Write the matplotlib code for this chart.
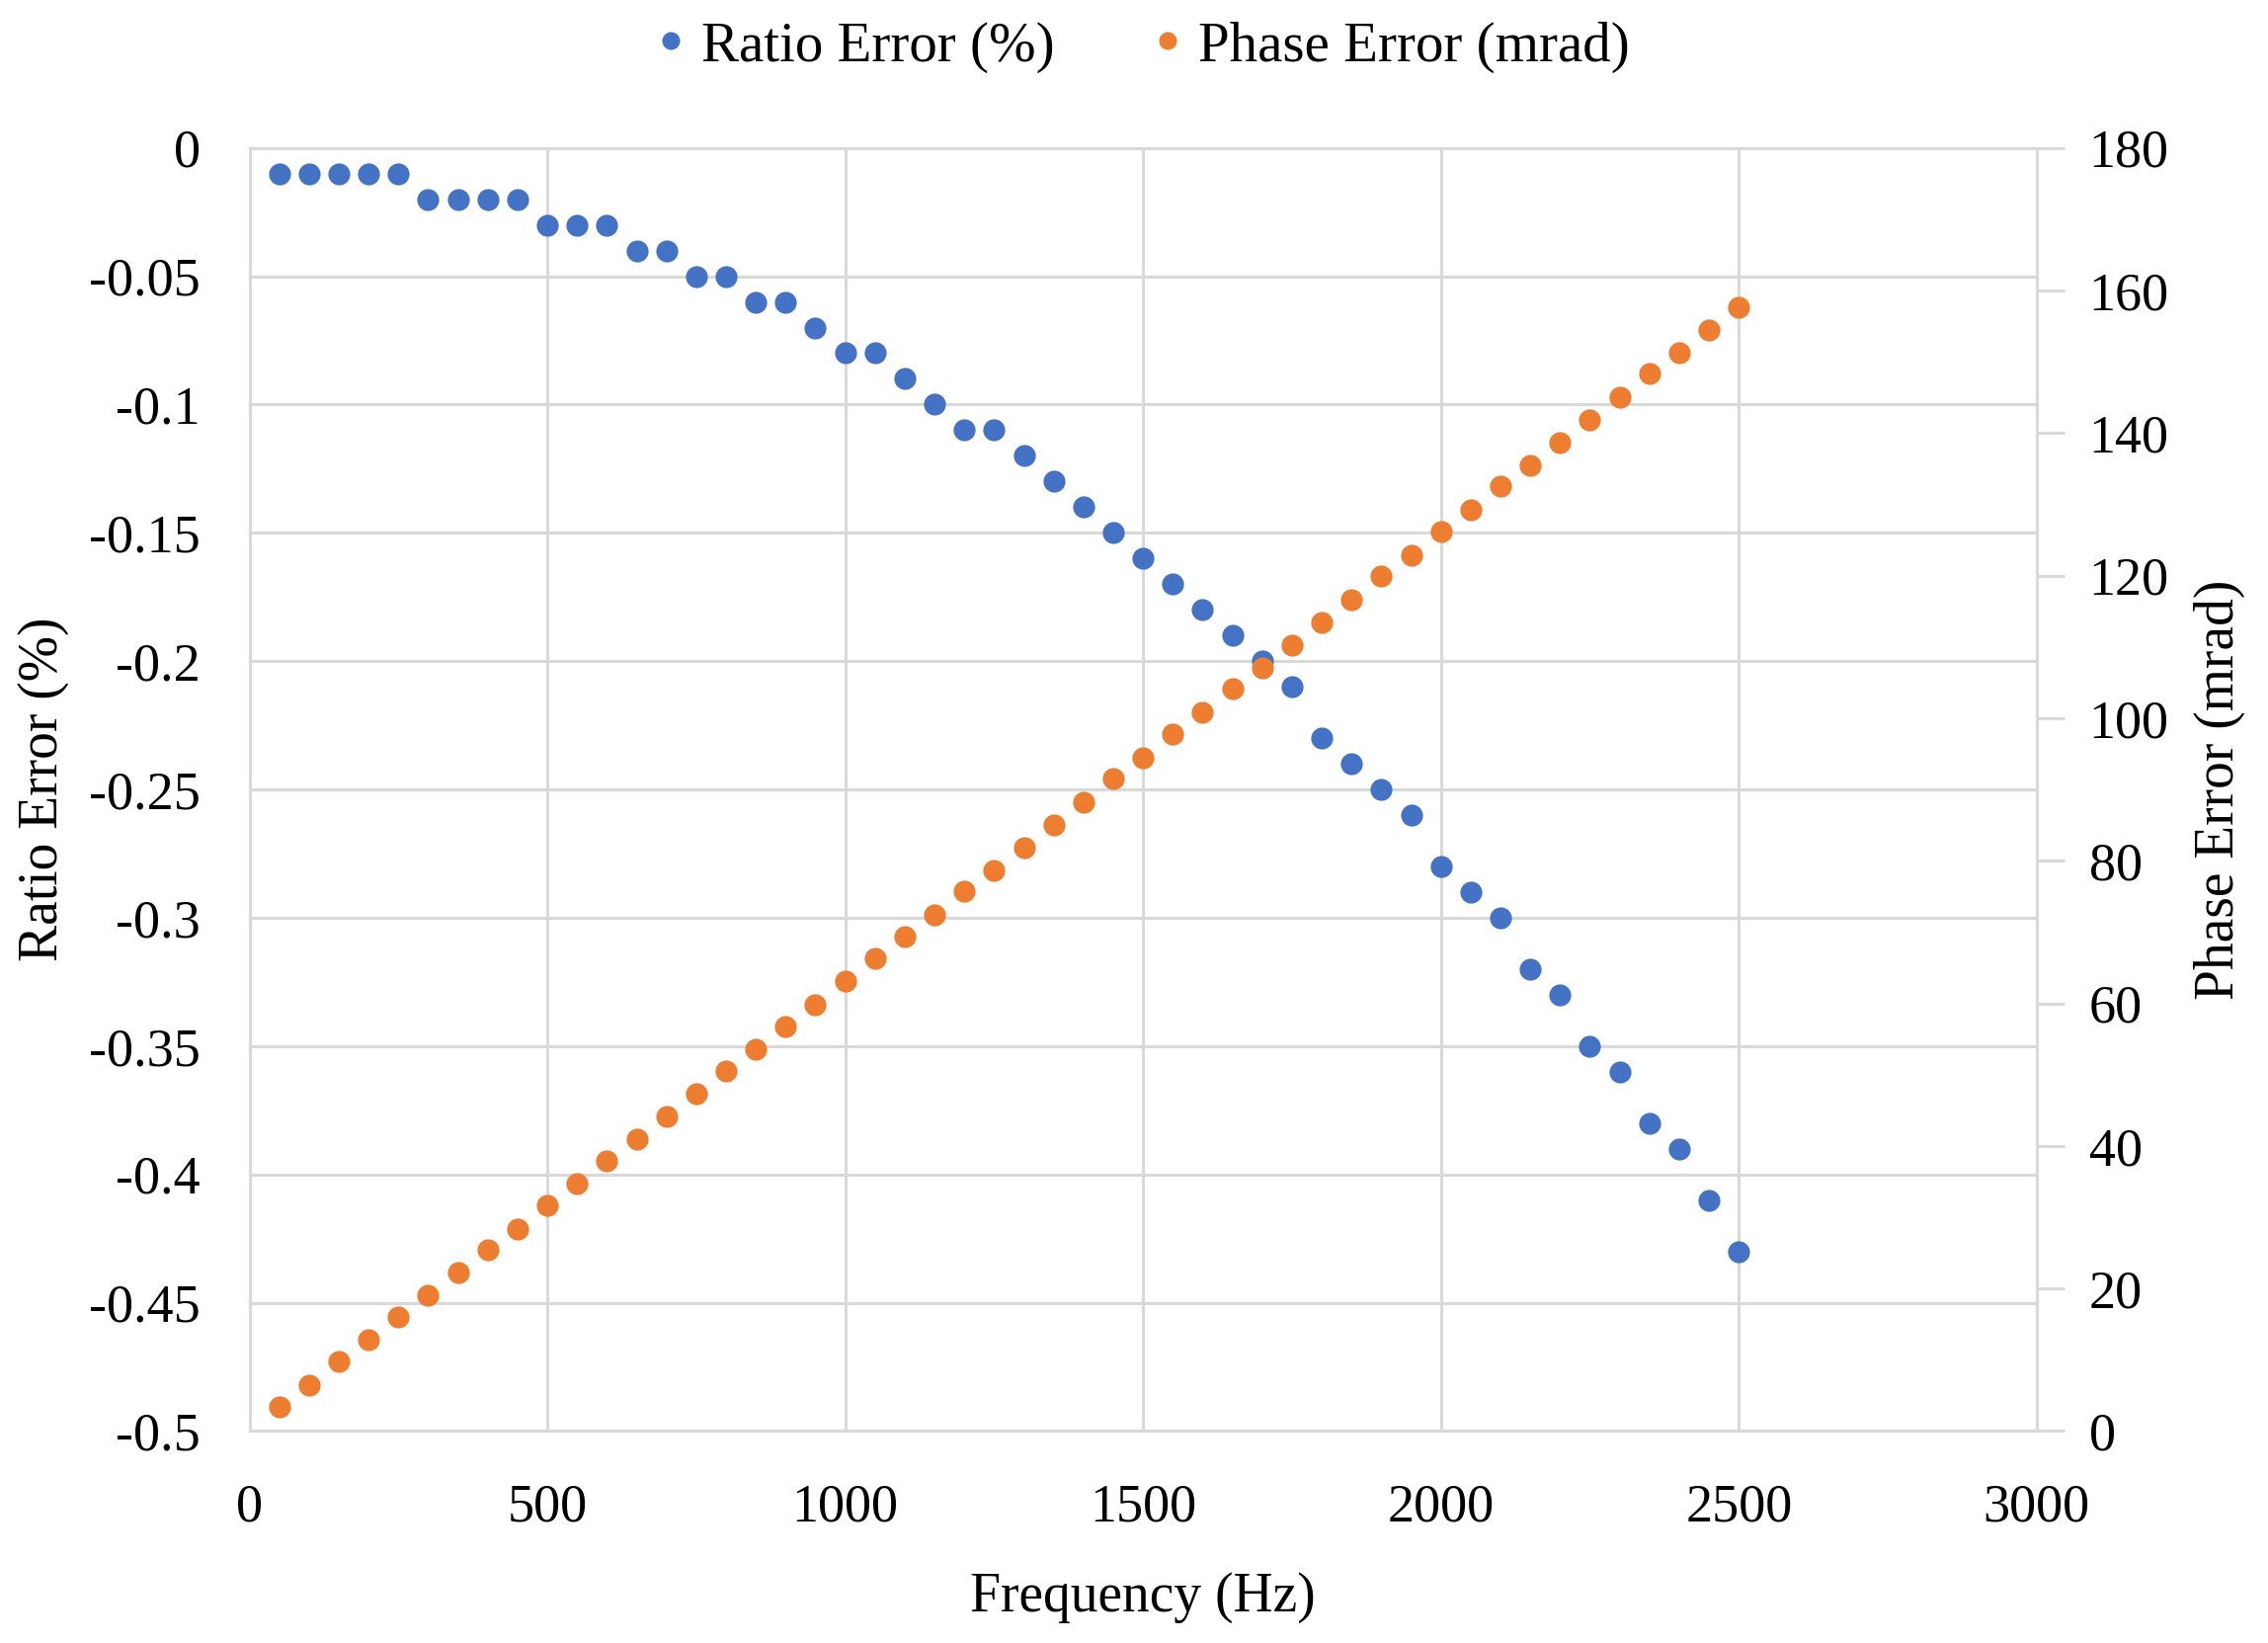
import matplotlib
matplotlib.use("Agg")
import matplotlib.pyplot as plt
from matplotlib.lines import Line2D
from matplotlib.ticker import FuncFormatter, MultipleLocator

plt.rcParams['font.family'] = ['Liberation Serif', 'DejaVu Serif']

# Frequency (Hz)
freq = [50, 100, 150, 200, 250, 300, 350, 400, 450, 500,
        550, 600, 650, 700, 750, 800, 850, 900, 950, 1000,
        1050, 1100, 1150, 1200, 1250, 1300, 1350, 1400, 1450, 1500,
        1550, 1600, 1650, 1700, 1750, 1800, 1850, 1900, 1950, 2000,
        2050, 2100, 2150, 2200, 2250, 2300, 2350, 2400, 2450, 2500]

# Ratio error (%)
ratio_err = [-0.01, -0.01, -0.01, -0.01, -0.01, -0.02, -0.02, -0.02, -0.02, -0.03,
             -0.03, -0.03, -0.04, -0.04, -0.05, -0.05, -0.06, -0.06, -0.07, -0.08,
             -0.08, -0.09, -0.10, -0.11, -0.11, -0.12, -0.13, -0.14, -0.15, -0.16,
             -0.17, -0.18, -0.19, -0.20, -0.21, -0.23, -0.24, -0.25, -0.26, -0.28,
             -0.29, -0.30, -0.32, -0.33, -0.35, -0.36, -0.38, -0.39, -0.41, -0.43]

# Phase error (mrad)
phase_err = [3.4, 6.5, 9.7, 12.8, 16.0, 19.1, 22.3, 25.4, 28.4, 31.6,
             34.7, 37.9, 41.0, 44.2, 47.3, 50.5, 53.5, 56.8, 59.8, 63.1,
             66.3, 69.4, 72.4, 75.7, 78.7, 81.9, 85.0, 88.2, 91.5, 94.5,
             97.8, 100.8, 104.1, 107.1, 110.3, 113.4, 116.6, 119.9, 122.9, 126.2,
             129.2, 132.5, 135.5, 138.7, 141.8, 145.0, 148.3, 151.3, 154.4, 157.6]

blue = '#4472C4'
orange = '#ED7D31'
grid_col = '#d9d9d9'
fs = 39

fig = plt.figure(figsize=(22.96, 16.63), dpi=100)
ax = fig.add_axes([0.110, 0.129, 0.788, 0.781])
ax2 = ax.twinx()

ax.plot(freq, ratio_err, 'o', color=blue, ms=16, mec='none')
ax2.plot(freq, phase_err, 'o', color=orange, ms=16, mec='none')

ax.set_xlim(0, 3000)
ax.set_ylim(-0.5, 0)
ax2.set_ylim(0, 180)

ax.xaxis.set_major_locator(MultipleLocator(500))
ax.yaxis.set_major_locator(MultipleLocator(0.05))
ax.yaxis.set_major_formatter(FuncFormatter(lambda v, p: '{:g}'.format(round(v, 3))))
ax2.yaxis.set_major_locator(MultipleLocator(20))

ax.grid(True, color=grid_col, lw=2.2)
ax.set_axisbelow(True)

for a in (ax, ax2):
    for s in a.spines.values():
        s.set_color(grid_col)
        s.set_linewidth(2.2)
ax2.spines['top'].set_visible(False)

ax.tick_params(axis='both', length=0, labelsize=fs, colors='black')
ax.tick_params(axis='y', pad=36)
ax.tick_params(axis='x', pad=38)
ax2.tick_params(axis='y', length=20, width=2.2, color=grid_col, labelsize=fs,
                labelcolor='black', pad=18)

ax.set_xlabel('Frequency (Hz)', fontsize=fs + 1, labelpad=28)
ax.set_ylabel('Ratio Error (%)', fontsize=fs + 1, labelpad=14)
ax2.set_ylabel('Phase Error (mrad)', fontsize=fs + 1, labelpad=18)

handles = [Line2D([], [], ls='none', marker='o', color=blue, ms=13, mec='none'),
           Line2D([], [], ls='none', marker='o', color=orange, ms=13, mec='none')]
fig.legend(handles, ['Ratio Error (%)', 'Phase Error (mrad)'], loc='upper center',
           bbox_to_anchor=(0.501, 1.018), ncol=2, frameon=False, fontsize=fs + 2,
           handletextpad=0.05, columnspacing=1.5, handlelength=1.0)

fig.savefig('out.png', dpi=100)
